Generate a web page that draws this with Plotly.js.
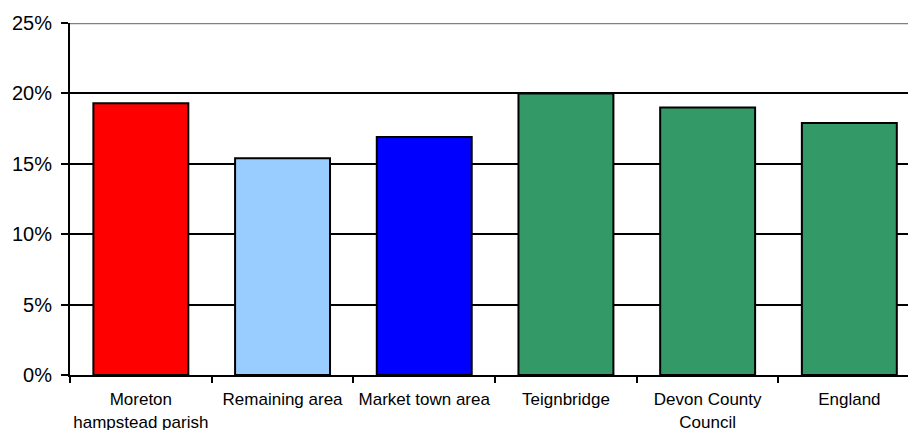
<!DOCTYPE html>
<html>
<head>
<meta charset="utf-8">
<script src="https://cdn.plot.ly/plotly-3.0.1.min.js"></script>
<style>html,body{margin:0;padding:0;background:#fff;}#chart{width:908px;height:430px;}</style>
</head>
<body>
<div id="chart"></div>
<script>
const categories = ["Moreton<br>hampstead parish", "Remaining area", "Market town area", "Teignbridge", "Devon County<br>Council", "England"];
const values = [19.3, 15.4, 16.9, 20.0, 19.0, 17.9];
const barColors = ["#FF0000", "#99CCFF", "#0000FF", "#339966", "#339966", "#339966"];
const yTickVals = [0, 5, 10, 15, 20, 25];
const yTickText = ["0%", "5%", "10%", "15%", "20%", "25%"];

const trace = {
  type: "bar",
  x: categories,
  y: values,
  marker: { color: barColors, line: { color: "#000000", width: 2 } },
  hoverinfo: "none"
};

const layout = {
  width: 908,
  height: 430,
  margin: { l: 70, r: 0, t: 23, b: 55 },
  paper_bgcolor: "#ffffff",
  plot_bgcolor: "#ffffff",
  bargap: 0.33,
  showlegend: false,
  font: { family: "Liberation Sans, Arial, sans-serif", color: "#000000" },
  xaxis: {
    type: "category",
    range: [-0.5, 5.414],
    tickson: "boundaries",
    ticks: "outside",
    ticklen: 6,
    tickwidth: 2,
    tickcolor: "#000000",
    showline: true,
    linecolor: "#000000",
    linewidth: 2,
    showgrid: false,
    zeroline: false,
    ticklabelstandoff: 8,
    tickfont: { size: 17, family: "Liberation Sans, Arial, sans-serif", color: "#000000" },
    tickangle: 0,
    automargin: false
  },
  yaxis: {
    range: [0, 25],
    tickvals: yTickVals,
    ticktext: yTickText,
    ticks: "outside",
    ticklen: 7,
    tickwidth: 2,
    tickcolor: "#000000",
    showline: true,
    linecolor: "#000000",
    linewidth: 2,
    showgrid: true,
    gridcolor: "#000000",
    gridwidth: 2,
    zeroline: false,
    ticklabelstandoff: 5,
    tickfont: { size: 20, family: "Liberation Sans, Arial, sans-serif", color: "#000000" },
    automargin: false
  },
  shapes: [
    { type: "line", xref: "paper", yref: "y", x0: 0, x1: 1, y0: 25, y1: 25, line: { color: "#808080", width: 2.5 }, layer: "above" }
  ]
};

Plotly.newPlot("chart", [trace], layout, { staticPlot: true, displayModeBar: false });
</script>
</body>
</html>
